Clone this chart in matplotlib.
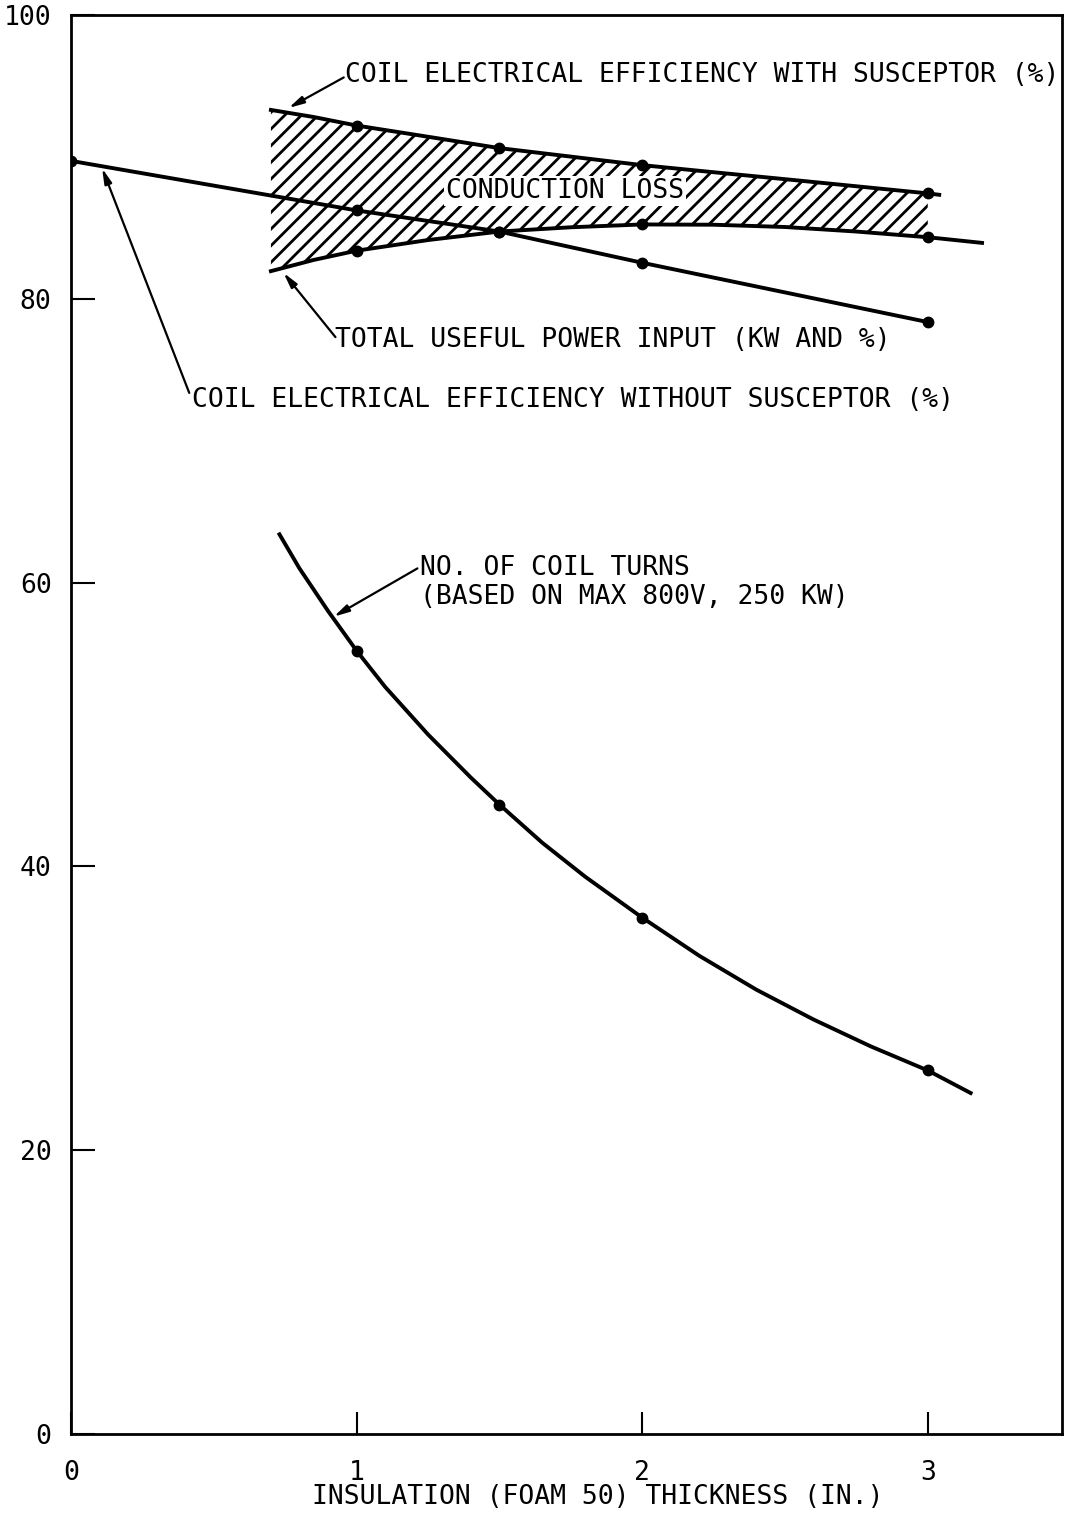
import matplotlib
matplotlib.use("Agg")
import matplotlib.pyplot as plt

# ---------------- data ----------------
# Coil electrical efficiency with susceptor (%)  -- upper edge of the band
susc_x = [0.70, 0.85, 1.00, 1.25, 1.50, 1.75, 2.00, 2.25, 2.50, 2.75, 3.00, 3.04]
susc_y = [93.31, 92.81, 92.21, 91.42, 90.62, 90.02, 89.42, 88.92, 88.43, 87.93, 87.43, 87.33]
susc_marks = [2, 4, 6, 10]

# Total useful power input (kW and %) -- lower edge of the band
useful_x = [0.70, 0.85, 1.00, 1.25, 1.50, 1.75, 2.00, 2.25, 2.50, 2.75, 3.00, 3.19]
useful_y = [81.95, 82.74, 83.39, 84.14, 84.74, 85.04, 85.24, 85.22, 85.06, 84.74, 84.34, 83.94]
useful_marks = [2, 4, 6, 10]

# Coil electrical efficiency without susceptor (%)
nosusc_x = [0.0, 1.0, 1.5, 2.0, 3.0]
nosusc_y = [89.72, 86.23, 84.74, 82.54, 78.36]

# No. of coil turns
turns_x = [0.73, 0.80, 0.90, 1.00, 1.10, 1.25, 1.40, 1.50, 1.65, 1.80, 2.00,
           2.20, 2.40, 2.60, 2.80, 3.00, 3.15]
turns_y = [63.4, 61.0, 58.0, 55.2, 52.65, 49.3, 46.26, 44.36, 41.67, 39.28, 36.39,
           33.7, 31.31, 29.21, 27.32, 25.62, 24.03]
turns_marks = [3, 7, 10, 15]

band_n = 11  # conduction-loss band spans the shared x positions 0.7 .. 3.0

x_ticks = [0, 1, 2, 3]
y_ticks = [0, 20, 40, 60, 80, 100]

# ---------------- figure ----------------
plt.rcParams["font.family"] = ["DejaVu Sans Mono", "DejaVu Sans"]
plt.rcParams["hatch.linewidth"] = 2.0
FS = 19

fig = plt.figure(figsize=(10.65, 15.13), dpi=100)
ax = fig.add_axes([71 / 1065, 1 - 1434 / 1513, (1062 - 71) / 1065, (1434 - 15) / 1513])
ax.set_xlim(0, 3.47)
ax.set_ylim(0, 100)

# conduction-loss hatched band
ax.fill_between(susc_x[:band_n], susc_y[:band_n], useful_y[:band_n],
                facecolor="white", edgecolor="black", hatch="//", linewidth=0, zorder=1)

lw = 2.8
ms = 7.5
ax.plot(susc_x, susc_y, color="black", lw=lw, marker="o", ms=ms,
        markevery=susc_marks, zorder=3)
ax.plot(useful_x, useful_y, color="black", lw=lw, marker="o", ms=ms,
        markevery=useful_marks, zorder=3)
ax.plot(nosusc_x, nosusc_y, color="black", lw=lw, marker="o", ms=ms, zorder=3)
ax.plot(turns_x, turns_y, color="black", lw=lw, marker="o", ms=ms,
        markevery=turns_marks, zorder=3)

# ---------------- labels & arrows ----------------
arrow = dict(arrowstyle="-|>,head_length=0.9,head_width=0.22", lw=1.6, color="black",
             shrinkA=0, shrinkB=0)

ax.text(0.961, 95.77, "COIL ELECTRICAL EFFICIENCY WITH SUSCEPTOR (%)",
        fontsize=FS, ha="left", va="center", zorder=5)
ax.annotate("", xy=(0.762, 93.45), xytext=(0.955, 95.6), arrowprops=arrow, zorder=5)

ax.text(1.729, 87.6, "CONDUCTION LOSS", fontsize=FS, ha="center", va="center",
        bbox=dict(facecolor="white", edgecolor="none", pad=1.5), zorder=4)

ax.text(0.926, 77.1, "TOTAL USEFUL POWER INPUT (KW AND %)",
        fontsize=FS, ha="left", va="center", zorder=5)
ax.annotate("", xy=(0.744, 81.83), xytext=(0.926, 77.3), arrowprops=arrow, zorder=5)

ax.text(0.425, 72.88, "COIL ELECTRICAL EFFICIENCY WITHOUT SUSCEPTOR (%)",
        fontsize=FS, ha="left", va="center", zorder=5)
ax.annotate("", xy=(0.109, 89.2), xytext=(0.414, 73.37), arrowprops=arrow, zorder=5)

ax.text(1.222, 61.96, "NO. OF COIL TURNS\n(BASED ON MAX 800V, 250 KW)",
        fontsize=FS, ha="left", va="top", linespacing=1.15, zorder=5)
ax.annotate("", xy=(0.920, 57.6), xytext=(1.213, 61.0), arrowprops=arrow, zorder=5)

# ---------------- axes styling ----------------
for s in ax.spines.values():
    s.set_linewidth(2.0)
    s.set_color("black")

ax.set_xticks(x_ticks)
ax.set_xticklabels([str(v) for v in x_ticks])
ax.set_yticks(y_ticks)
ax.set_yticklabels([str(v) for v in y_ticks])
ax.tick_params(axis="x", direction="in", length=16, width=1.5, pad=19, labelsize=FS)
ax.tick_params(axis="y", direction="in", length=17, width=1.5, pad=14, labelsize=FS)

fig.text(598 / 1065, 1 - 1497 / 1513, "INSULATION (FOAM 50) THICKNESS (IN.)",
         fontsize=FS, ha="center", va="center")

fig.savefig("out.png", dpi=100, facecolor="white")
